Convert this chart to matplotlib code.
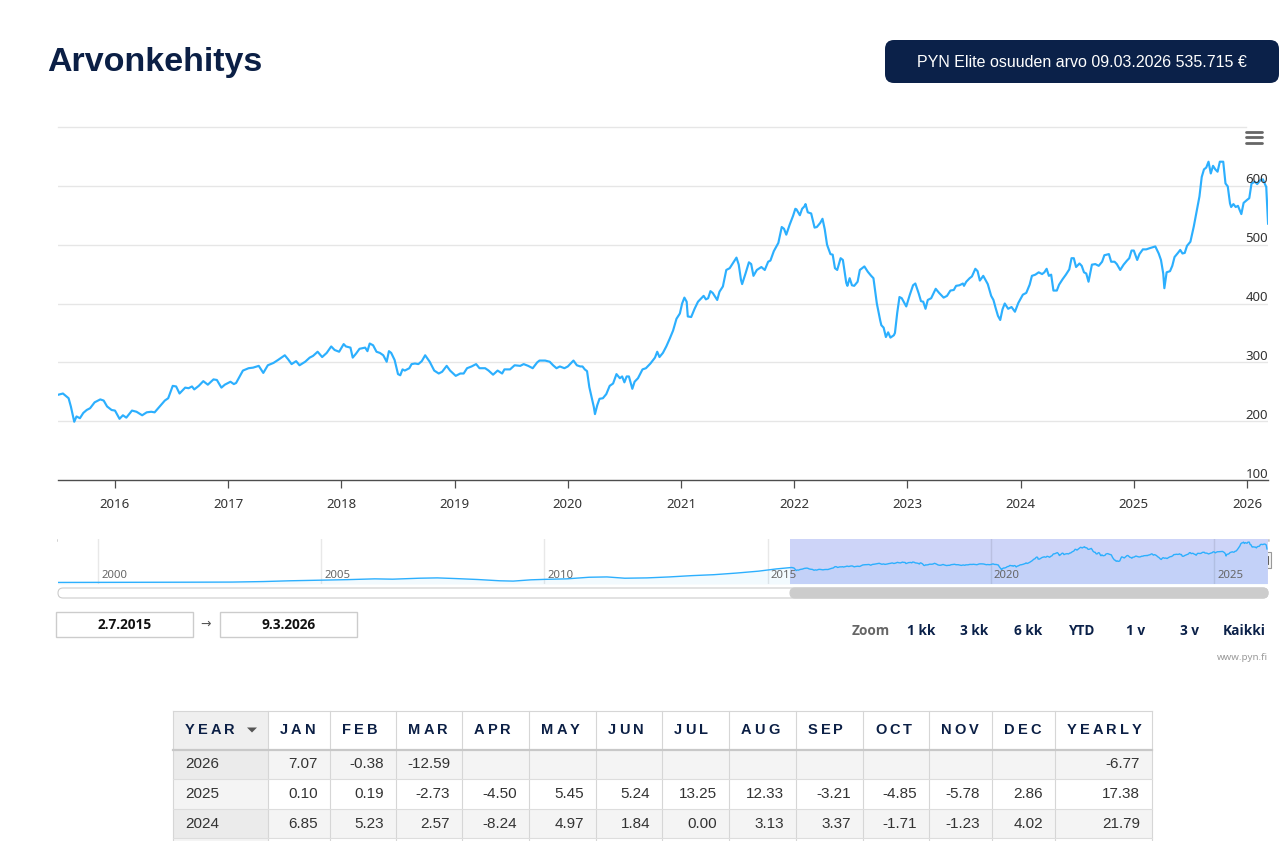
import matplotlib
matplotlib.use("Agg")
import matplotlib.pyplot as plt
import matplotlib.transforms as mtransforms
from matplotlib.patches import Rectangle, FancyBboxPatch, Polygon
from matplotlib.font_manager import FontProperties
from matplotlib.textpath import TextToPath

W, H = 1284, 841
DPI = 100

# ---- values (dates as decimal years) ----
dates_2015 = [2015.50, 2015.54, 2015.59, 2015.61, 2015.64, 2015.66, 2015.69, 2015.72, 2015.75, 2015.78,
              2015.82, 2015.87, 2015.90, 2015.93, 2015.97, 2016.00, 2016.04, 2016.07, 2016.10, 2016.15,
              2016.19, 2016.24, 2016.28, 2016.32, 2016.35, 2016.40, 2016.44, 2016.47, 2016.51, 2016.54,
              2016.57, 2016.62, 2016.65, 2016.68, 2016.70, 2016.74, 2016.78, 2016.82, 2016.87, 2016.90,
              2016.94, 2016.97, 2017.02, 2017.05, 2017.07, 2017.13, 2017.18, 2017.22, 2017.27, 2017.31,
              2017.35, 2017.40, 2017.44, 2017.47, 2017.50, 2017.53, 2017.56, 2017.60, 2017.63, 2017.68,
              2017.72, 2017.75, 2017.79, 2017.83, 2017.87, 2017.91, 2017.94, 2017.98, 2018.02, 2018.04,
              2018.08, 2018.10, 2018.13, 2018.16, 2018.21]
values_2015 = [245, 247, 239, 225, 199, 208, 205, 214, 219, 222,
               232, 237, 235, 225, 219, 218, 204, 210, 206, 218,
               216, 210, 215, 216, 215, 226, 235, 239, 260, 259,
               247, 257, 256, 259, 254, 260, 268, 262, 271, 270,
               257, 262, 267, 263, 265, 286, 290, 291, 294, 282,
               295, 299, 304, 308, 312, 305, 297, 302, 295, 301,
               308, 311, 318, 309, 316, 327, 321, 318, 331, 327,
               325, 308, 315, 323, 325]

dates_2018 = [2018.23, 2018.25, 2018.28, 2018.31, 2018.34, 2018.37, 2018.40, 2018.42, 2018.44, 2018.47,
              2018.50, 2018.52, 2018.54, 2018.56, 2018.60, 2018.62, 2018.65, 2018.68, 2018.71, 2018.74,
              2018.78, 2018.82, 2018.86, 2018.89, 2018.93, 2018.96, 2019.01, 2019.05, 2019.08, 2019.11,
              2019.15, 2019.19, 2019.22, 2019.27, 2019.30, 2019.34, 2019.38, 2019.42, 2019.44, 2019.49,
              2019.53, 2019.58, 2019.61, 2019.65, 2019.69, 2019.73, 2019.75, 2019.80, 2019.84, 2019.87,
              2019.90, 2019.93, 2019.97, 2020.00, 2020.02, 2020.05, 2020.08, 2020.11, 2020.13, 2020.15,
              2020.17, 2020.19, 2020.23, 2020.24, 2020.26, 2020.28, 2020.31, 2020.34, 2020.37, 2020.40,
              2020.43, 2020.46, 2020.48, 2020.50, 2020.52, 2020.54, 2020.57, 2020.59, 2020.62, 2020.66,
              2020.69, 2020.73, 2020.77, 2020.79, 2020.81, 2020.84, 2020.87, 2020.90]
values_2018 = [319, 332, 329, 318, 316, 312, 301, 319, 316, 304,
               280, 278, 288, 286, 290, 297, 298, 297, 302, 312,
               301, 286, 281, 284, 294, 286, 277, 281, 281, 290,
               293, 297, 290, 290, 286, 279, 286, 281, 288, 288,
               295, 294, 297, 294, 290, 300, 303, 303, 301, 295,
               290, 293, 290, 293, 297, 303, 295, 293, 293, 288,
               285, 258, 224, 212, 227, 238, 239, 246, 260, 264,
               280, 273, 276, 266, 276, 276, 255, 267, 273, 288,
               290, 298, 308, 318, 309, 316, 327, 340]

dates_2021 = [2020.93, 2020.96, 2020.99, 2021.01, 2021.03, 2021.05, 2021.06, 2021.09, 2021.12, 2021.15,
              2021.18, 2021.20, 2021.22, 2021.24, 2021.26, 2021.28, 2021.32, 2021.34, 2021.37, 2021.40,
              2021.43, 2021.46, 2021.49, 2021.51, 2021.53, 2021.54, 2021.57, 2021.60, 2021.62, 2021.64,
              2021.67, 2021.71, 2021.74, 2021.77, 2021.79, 2021.82, 2021.86, 2021.89, 2021.91, 2021.93,
              2021.96, 2021.99, 2022.01, 2022.02, 2022.05, 2022.07, 2022.09, 2022.10, 2022.12, 2022.15,
              2022.18, 2022.20, 2022.23, 2022.25, 2022.27, 2022.29, 2022.32, 2022.34, 2022.36, 2022.38,
              2022.41, 2022.43, 2022.46, 2022.47, 2022.49, 2022.51, 2022.53, 2022.56, 2022.58, 2022.62,
              2022.65, 2022.68, 2022.70, 2022.73, 2022.76, 2022.77, 2022.79, 2022.81, 2022.83, 2022.85,
              2022.88, 2022.89, 2022.91, 2022.93, 2022.95, 2022.99, 2023.02, 2023.05, 2023.07, 2023.10,
              2023.12, 2023.14, 2023.16, 2023.18, 2023.21, 2023.22, 2023.25, 2023.28, 2023.32, 2023.35,
              2023.38, 2023.41, 2023.43, 2023.46, 2023.49, 2023.50, 2023.52, 2023.55]
values_2021 = [354, 374, 383, 400, 410, 403, 378, 377, 391, 403,
               409, 413, 407, 409, 421, 418, 406, 420, 429, 457,
               460, 469, 478, 466, 440, 433, 451, 470, 467, 447,
               457, 462, 457, 471, 473, 489, 503, 530, 527, 517,
               534, 549, 561, 560, 550, 561, 565, 569, 555, 553,
               529, 530, 537, 544, 526, 500, 484, 483, 460, 457,
               477, 474, 435, 430, 443, 431, 430, 437, 457, 463,
               454, 447, 443, 400, 371, 363, 359, 343, 351, 342,
               346, 350, 384, 411, 409, 395, 414, 431, 434, 417,
               404, 403, 391, 406, 409, 413, 425, 418, 410, 413,
               422, 423, 430, 431, 434, 430, 437, 443]

dates_2023 = [2023.57, 2023.60, 2023.62, 2023.64, 2023.67, 2023.71, 2023.74, 2023.76, 2023.78, 2023.80,
              2023.82, 2023.84, 2023.86, 2023.89, 2023.92, 2023.95, 2023.98, 2024.02, 2024.05, 2024.08,
              2024.10, 2024.13, 2024.16, 2024.19, 2024.21, 2024.23, 2024.25, 2024.27, 2024.29, 2024.32,
              2024.34, 2024.37, 2024.40, 2024.43, 2024.45, 2024.47, 2024.49, 2024.52, 2024.54, 2024.56,
              2024.58, 2024.60, 2024.63, 2024.66, 2024.69, 2024.72, 2024.74, 2024.78, 2024.80, 2024.83,
              2024.85, 2024.88, 2024.91, 2024.94, 2024.96, 2024.98, 2025.00, 2025.03, 2025.05, 2025.08,
              2025.11, 2025.14, 2025.19, 2025.22, 2025.24, 2025.26, 2025.27, 2025.29, 2025.32, 2025.34,
              2025.36, 2025.39, 2025.41, 2025.43, 2025.45, 2025.47, 2025.50, 2025.53, 2025.56, 2025.58,
              2025.60, 2025.62, 2025.64, 2025.66, 2025.68, 2025.70, 2025.72, 2025.74, 2025.76, 2025.79,
              2025.81, 2025.83, 2025.85, 2025.86, 2025.88, 2025.90, 2025.92, 2025.95, 2025.97, 2026.00,
              2026.02, 2026.04, 2026.07, 2026.09, 2026.12, 2026.14, 2026.17, 2026.186]
values_2023 = [446, 459, 455, 439, 447, 433, 413, 406, 392, 379,
               372, 390, 400, 391, 394, 386, 401, 415, 418, 432,
               447, 449, 453, 450, 453, 459, 447, 449, 422, 422,
               432, 441, 449, 458, 477, 477, 462, 468, 464, 453,
               451, 437, 466, 467, 464, 471, 482, 484, 471, 471,
               467, 457, 466, 473, 477, 490, 490, 474, 484, 492,
               492, 494, 497, 485, 474, 451, 426, 453, 455, 464,
               479, 486, 491, 485, 486, 498, 505, 531, 562, 582,
               615, 628, 631, 641, 621, 634, 628, 624, 641, 641,
               604, 599, 570, 564, 569, 564, 566, 552, 571, 576,
               579, 604, 607, 603, 610, 611, 598, 535.715]

# long history only shown in the navigator
hist_dates = [1998.9, 2000.0, 2001.0, 2002.0, 2003.0, 2003.7, 2004.3, 2005.0, 2005.6, 2006.2,
              2006.6, 2007.2, 2007.6, 2008.0, 2008.5, 2009.0, 2009.3, 2009.7, 2010.0, 2010.5,
              2011.0, 2011.4, 2011.8, 2012.3, 2012.8, 2013.3, 2013.8, 2014.3, 2014.8, 2015.2]
hist_values = [14, 15, 16, 18, 20, 28, 40, 50, 58, 70,
               65, 80, 85, 75, 60, 40, 35, 55, 62, 70,
               95, 100, 80, 85, 100, 120, 135, 160, 190, 225]

year_ticks = list(range(2016, 2027))
value_ticks = [100, 200, 300, 400, 500, 600]
nav_years = [2000, 2005, 2010, 2015, 2020, 2025]
zoom_buttons = ["1 kk", "3 kk", "6 kk", "YTD", "1 v", "3 v", "Kaikki"]
start_label = "2.7.2015"
end_label = "9.3.2026"
badge_label = "PYN Elite osuuden arvo 09.03.2026 535.715 €"

table_header = ["YEAR", "JAN", "FEB", "MAR", "APR", "MAY", "JUN", "JUL",
                "AUG", "SEP", "OCT", "NOV", "DEC", "YEARLY"]
table_years = ["2026", "2025", "2024"]
returns_2026 = [7.07, -0.38, -12.59, None, None, None, None, None, None, None, None, None, -6.77]
returns_2025 = [0.10, 0.19, -2.73, -4.50, 5.45, 5.24, 13.25, 12.33, -3.21, -4.85, -5.78, 2.86, 17.38]
returns_2024 = [6.85, 5.23, 2.57, -8.24, 4.97, 1.84, 0.00, 3.13, 3.37, -1.71, -1.23, 4.02, 21.79]
table_rows = [returns_2026, returns_2025, returns_2024]

main_dates = dates_2015 + dates_2018 + dates_2021 + dates_2023
main_values = values_2015 + values_2018 + values_2021 + values_2023
nav_dates = hist_dates + main_dates
nav_values = hist_values + main_values

NAVY = "#0b2149"
LINE = "#2caffe"
CHART_FONT = "Noto Sans"
BOLD_FONT = "Open Sans"
WEB_FONT = "Liberation Sans"

fig = plt.figure(figsize=(W / DPI, H / DPI), dpi=DPI)
fig.patch.set_facecolor("white")

# full-page axes in pixel coordinates for page elements
bg = fig.add_axes([0, 0, 1, 1])
bg.set_xlim(0, W)
bg.set_ylim(H, 0)
bg.axis("off")


def px_axes(x0, y0, x1, y1):
    return fig.add_axes([x0 / W, 1 - y1 / H, (x1 - x0) / W, (y1 - y0) / H])


# header: title and value badge
bg.text(47, 71, "Arvonkehitys", fontsize=24.5, fontweight="bold", color="#0b1f45",
        family=WEB_FONT, ha="left", va="baseline")
bg.add_patch(FancyBboxPatch((885, 40), 394, 43, boxstyle="round,pad=0,rounding_size=9",
                            fc=NAVY, ec="none"))
bg.text(1082, 62, badge_label, fontsize=11.5, color="white", family=WEB_FONT,
        ha="center", va="center")

# ---- main chart ----
x_left = 2016 - 57 / 113.2
x_right = 2016 + 1153 / 113.2
ax = px_axes(58, 127, 1268, 480)
ax.set_xlim(x_left, x_right)
ax.set_ylim(100, 700)
ax.patch.set_alpha(0)
for v in value_ticks[1:]:
    ax.axhline(v, color="#e6e6e6", lw=1, zorder=0)
ax.axhline(700, xmax=(1246 - 58) / 1210, color="#e6e6e6", lw=1, zorder=0, clip_on=False)
ax.plot(main_dates, main_values, color=LINE, lw=1.55, solid_joinstyle="round", zorder=3)

for s in ["top", "left", "right"]:
    ax.spines[s].set_visible(False)
ax.spines["bottom"].set_color("#4d4d4d")
ax.spines["bottom"].set_linewidth(1)
ax.set_xticks(year_ticks)
ax.set_xticklabels([str(y) for y in year_ticks], family=CHART_FONT)
ax.tick_params(axis="x", length=5.8, width=0.9, color="#4d4d4d", pad=7,
               labelsize=9.5, labelcolor="#333333")
ax.set_yticks([])

lab_trans = mtransforms.offset_copy(
    mtransforms.blended_transform_factory(ax.transAxes, ax.transData),
    fig=fig, x=0, y=2.5, units="dots")
for v in value_ticks:
    ax.text(1.0, v, str(v), transform=lab_trans, ha="right", va="baseline",
            fontsize=9.5, color="#333333", family=CHART_FONT, zorder=4)

# menu icon
for yy in [131.5, 137, 142.5]:
    bg.plot([1246, 1262], [yy, yy], color="#666666", lw=2.0, solid_capstyle="round")

# ---- navigator ----
px_per_year = (1214 - 98) / 25
nav_left = 2000 - 40 / px_per_year
nav_right = 2000 + 1170 / px_per_year
nav = px_axes(58, 539, 1268, 584)
nav.set_xlim(nav_left, nav_right)
nav.set_ylim(-10, 690)
nav.axvspan(x_left, nav_right, color="#cdd4f8", lw=0, zorder=1)
for yr in nav_years:
    nav.axvline(yr, color=(0, 0, 0, 0.09), lw=1, zorder=1.5)
    nav.text(yr + 3 / px_per_year, 0.2, str(yr),
             transform=mtransforms.blended_transform_factory(nav.transData, nav.transAxes),
             ha="left", va="center", fontsize=8.2, color="#666666", family=CHART_FONT, zorder=4)
nav.fill_between(nav_dates, nav_values, -10, color=LINE, alpha=0.06, lw=0, zorder=2)
nav.plot(nav_dates, nav_values, color=LINE, lw=1.0, zorder=3)
nav.set_xticks([])
nav.set_yticks([])
for s in nav.spines.values():
    s.set_visible(False)

bg.plot([58, 1268], [539.5, 539.5], color="#c4c4c4", lw=1.8, zorder=5)


def handle(xc):
    bg.add_patch(Rectangle((xc - 4, 552), 8, 16, fc="#f2f2f2", ec="#999999", lw=0.8, zorder=6))
    for dx in (-1.3, 1.3):
        bg.plot([xc + dx, xc + dx], [556, 564], color="#444444", lw=0.6, zorder=7)


handle(790)
handle(1267)

# scrollbar
bg.add_patch(FancyBboxPatch((58, 588), 1210, 10, boxstyle="round,pad=0,rounding_size=5",
                            fc="white", ec="#cccccc", lw=0.8))
bg.add_patch(FancyBboxPatch((790, 588), 478, 10, boxstyle="round,pad=0,rounding_size=5",
                            fc="#cccccc", ec="#cccccc", lw=0.8))

# range inputs
for x0, lab in [(56, start_label), (220, end_label)]:
    bg.add_patch(Rectangle((x0, 612), 137, 25, fc="white", ec="#cccccc", lw=1))
    bg.text(x0 + 68.5, 625, lab, fontsize=9.8, fontweight="bold", color="#111111",
            family=BOLD_FONT, ha="center", va="center")
bg.text(206, 624.5, "→", fontsize=9, color="#555555", family="DejaVu Sans",
        ha="center", va="center")

# range selector buttons
bg.text(871, 631, "Zoom", fontsize=9.8, fontweight="bold", color="#666666",
        family=BOLD_FONT, ha="center", va="center")
for xc, lab in zip([921, 974, 1028, 1082, 1136, 1189, 1244], zoom_buttons):
    bg.text(xc, 631, lab, fontsize=9.8, fontweight="bold", color=NAVY,
            family=BOLD_FONT, ha="center", va="center")
bg.text(1268, 657, "www.pyn.fi", fontsize=7, color="#999999", family=CHART_FONT,
        ha="right", va="center")

# ---- monthly returns table ----
col_edges = [173, 268, 330, 396, 462, 529, 596, 662, 729, 796, 863, 929, 992, 1055, 1152]
row_edges = [711, 750, 779, 809, 838, 868]

ttp = TextToPath()
head_prop = FontProperties(family=WEB_FONT, weight="bold", size=10.5)


def spaced_text(x, y, s, prop, gap, color):
    for ch in s:
        bg.text(x, y, ch, fontproperties=prop, color=color, ha="left", va="center", zorder=5)
        w, _, _ = ttp.get_text_width_height_descent(ch, prop, ismath=False)
        x += w * DPI / 72 + gap


# backgrounds
bg.add_patch(Rectangle((col_edges[0], row_edges[0]), col_edges[1] - col_edges[0],
                       row_edges[1] - row_edges[0], fc="#efefef", ec="none"))
for i in range(4):
    striped = i % 2 == 0
    y0, y1 = row_edges[i + 1], row_edges[i + 2]
    bg.add_patch(Rectangle((col_edges[0], y0), col_edges[1] - col_edges[0], y1 - y0,
                           fc="#ebebeb" if striped else "#f4f4f4", ec="none"))
    bg.add_patch(Rectangle((col_edges[1], y0), col_edges[-1] - col_edges[1], y1 - y0,
                           fc="#f4f4f4" if striped else "white", ec="none"))

# grid lines
for x in col_edges:
    bg.plot([x, x], [row_edges[0], H + 5], color="#d6d6d6", lw=0.8, zorder=3)
for y in row_edges[2:-1]:
    bg.plot([col_edges[0], col_edges[-1]], [y, y], color="#dddddd", lw=0.8, zorder=3)
bg.plot([col_edges[0], col_edges[-1]], [row_edges[0], row_edges[0]], color="#d6d6d6", lw=0.8, zorder=3)
bg.plot([col_edges[0], col_edges[-1]], [row_edges[1], row_edges[1]], color="#c8c8c8", lw=1.6, zorder=3)

# header texts
for j, lab in enumerate(table_header):
    spaced_text(col_edges[j] + 12, 730, lab, head_prop, 3.0, "#0b1f45")
bg.add_patch(Polygon([(247, 727.5), (257, 727.5), (252, 732.5)], closed=True,
                     fc="#555555", ec="none", zorder=5))

# body texts
for i, (yr, vals) in enumerate(zip(table_years, table_rows)):
    yc = (row_edges[i + 1] + row_edges[i + 2]) / 2
    bg.text(col_edges[0] + 12, yc, yr, fontsize=11, color="#333333", family=WEB_FONT,
            ha="left", va="center", zorder=5)
    for j, v in enumerate(vals):
        if v is None:
            continue
        bg.text(col_edges[j + 2] - 12, yc, f"{v:.2f}", fontsize=11, color="#333333",
                family=WEB_FONT, ha="right", va="center", zorder=5)

fig.savefig("out.png", dpi=DPI)
